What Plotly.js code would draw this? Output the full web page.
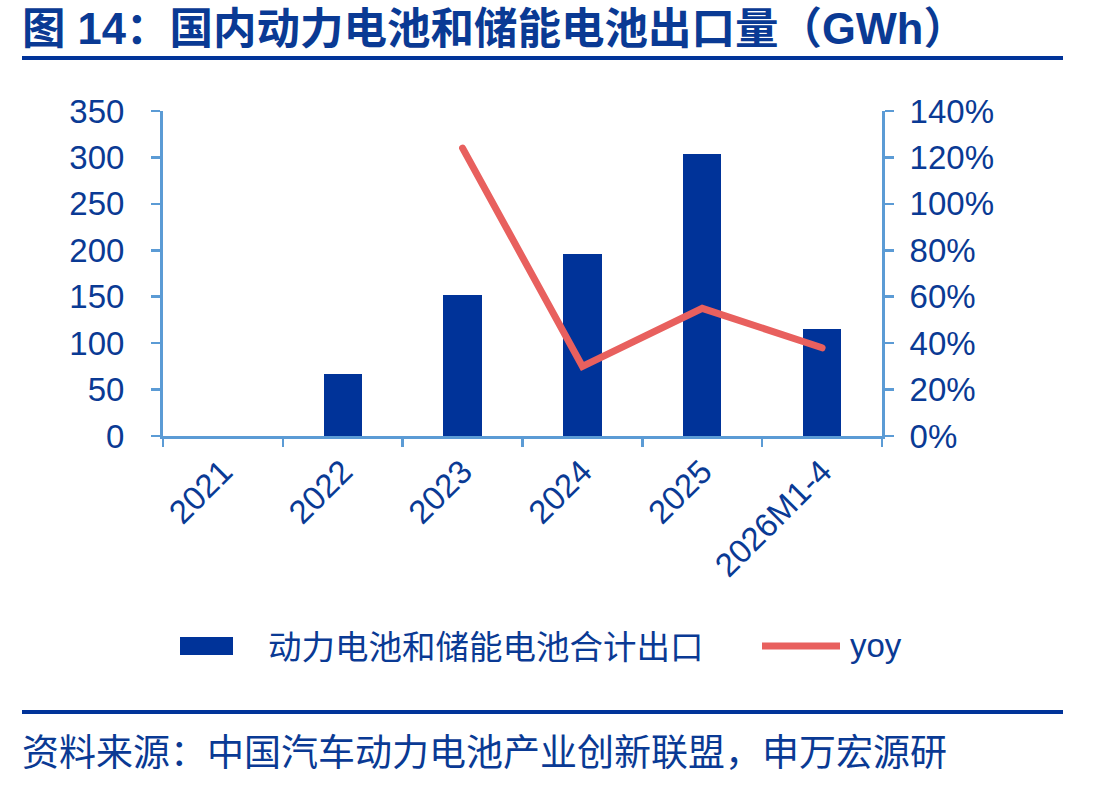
<!DOCTYPE html>
<html>
<head>
<meta charset="utf-8">
<script src="https://cdn.plot.ly/plotly-3.0.1.min.js"></script>
<style>
  html, body { margin: 0; padding: 0; background: #fff; }
  #chart { width: 1110px; height: 787px; }
  .scatterlayer path.js-line { stroke-linecap: round; }
</style>
</head>
<body>
<div id="chart"></div>
<script>
// 国内动力电池和储能电池出口量（GWh）与同比增速
const categories = ['2021', '2022', '2023', '2024', '2025', '2026M1-4'];
const exportGWh  = [0, 67, 152, 196, 304, 115];
const yoy        = [null, null, 1.24, 0.30, 0.55, 0.38];

const leftTicks  = [0, 50, 100, 150, 200, 250, 300, 350];
const rightTicks = [0, 0.2, 0.4, 0.6, 0.8, 1.0, 1.2, 1.4];

const BLUE = '#003399';
const TEXT = '#0a3a94';
const AXIS = '#5b9bd5';
const RED  = '#e8605e';
const LATIN = '"Liberation Sans", Arial, sans-serif';
const CJK = '"Liberation Sans", "Noto Sans CJK SC", sans-serif';

const W = 1110, H = 787;
const M = { l: 163, r: 228, t: 111, b: 351 };
const PW = W - M.l - M.r, PH = H - M.t - M.b;
// pixel -> paper fraction helpers for decorations outside the plot area
const px = x => (x - M.l) / PW;
const py = y => (H - M.b - y) / PH;

const traces = [
  {
    type: 'bar', name: '动力电池和储能电池合计出口',
    x: categories, y: exportGWh,
    marker: { color: BLUE },
    width: 0.32,
    showlegend: false, hoverinfo: 'x+y'
  },
  {
    type: 'scatter', mode: 'lines', name: 'yoy',
    x: categories, y: yoy, yaxis: 'y2',
    line: { color: RED, width: 7 },
    connectgaps: false,
    showlegend: false
  }
];

const axisCommon = {
  showline: true, linecolor: AXIS, linewidth: 3,
  ticks: 'outside', tickcolor: AXIS, tickwidth: 2.5, ticklen: 9,
  showgrid: false, zeroline: false,
  tickfont: { family: LATIN, size: 33, color: TEXT },
  fixedrange: true
};

const layout = {
  width: W, height: H,
  margin: M,
  paper_bgcolor: '#fff', plot_bgcolor: '#fff',
  bargap: 0,
  title: {
    text: '<b>图 14：国内动力电池和储能电池出口量（GWh）</b>',
    font: { family: CJK, size: 43.5, color: TEXT },
    xref: 'container', yref: 'container',
    x: 22 / W, xanchor: 'left', y: 1 - 29 / H, yanchor: 'middle'
  },
  xaxis: Object.assign({}, axisCommon, {
    type: 'category', tickangle: -45, tickson: 'boundaries', ticklen: 8,
    range: [-0.5, categories.length - 0.5]
  }),
  yaxis: Object.assign({}, axisCommon, {
    range: [0, 350], tickvals: leftTicks, ticktext: leftTicks.map(String),
    ticklabelstandoff: 20
  }),
  yaxis2: Object.assign({}, axisCommon, {
    overlaying: 'y', side: 'right', range: [0, 1.4],
    tickvals: rightTicks, ticktext: rightTicks.map(v => Math.round(v * 100) + '%'),
    ticklabelstandoff: 9
  }),
  shapes: [
    // rule under the heading
    { type: 'line', xref: 'paper', yref: 'paper', x0: px(22), x1: px(1063), y0: py(58), y1: py(58),
      line: { color: BLUE, width: 4 } },
    // rule above the source note
    { type: 'line', xref: 'paper', yref: 'paper', x0: px(22), x1: px(1063), y0: py(712), y1: py(712),
      line: { color: BLUE, width: 4 } },
    // legend swatches
    { type: 'rect', xref: 'paper', yref: 'paper', x0: px(180), x1: px(233), y0: py(637), y1: py(655),
      fillcolor: BLUE, line: { width: 0 } },
    { type: 'line', xref: 'paper', yref: 'paper', x0: px(762), x1: px(840), y0: py(646), y1: py(646),
      line: { color: RED, width: 7 } }
  ],
  annotations: [
    { xref: 'paper', yref: 'paper', x: px(266), y: py(647), xanchor: 'left', yanchor: 'middle',
      text: '动力电池和储能电池合计出口', showarrow: false,
      font: { family: CJK, size: 33.5, color: TEXT } },
    { xref: 'paper', yref: 'paper', x: px(848), y: py(645), xanchor: 'left', yanchor: 'middle',
      text: 'yoy', showarrow: false,
      font: { family: LATIN, size: 33, color: TEXT } },
    { xref: 'paper', yref: 'paper', x: px(20), y: py(753), xanchor: 'left', yanchor: 'middle',
      text: '资料来源：中国汽车动力电池产业创新联盟，申万宏源研', showarrow: false,
      font: { family: CJK, size: 37, color: TEXT } }
  ],
  showlegend: false
};

Plotly.newPlot('chart', traces, layout, { displayModeBar: false, staticPlot: true });
</script>
</body>
</html>
